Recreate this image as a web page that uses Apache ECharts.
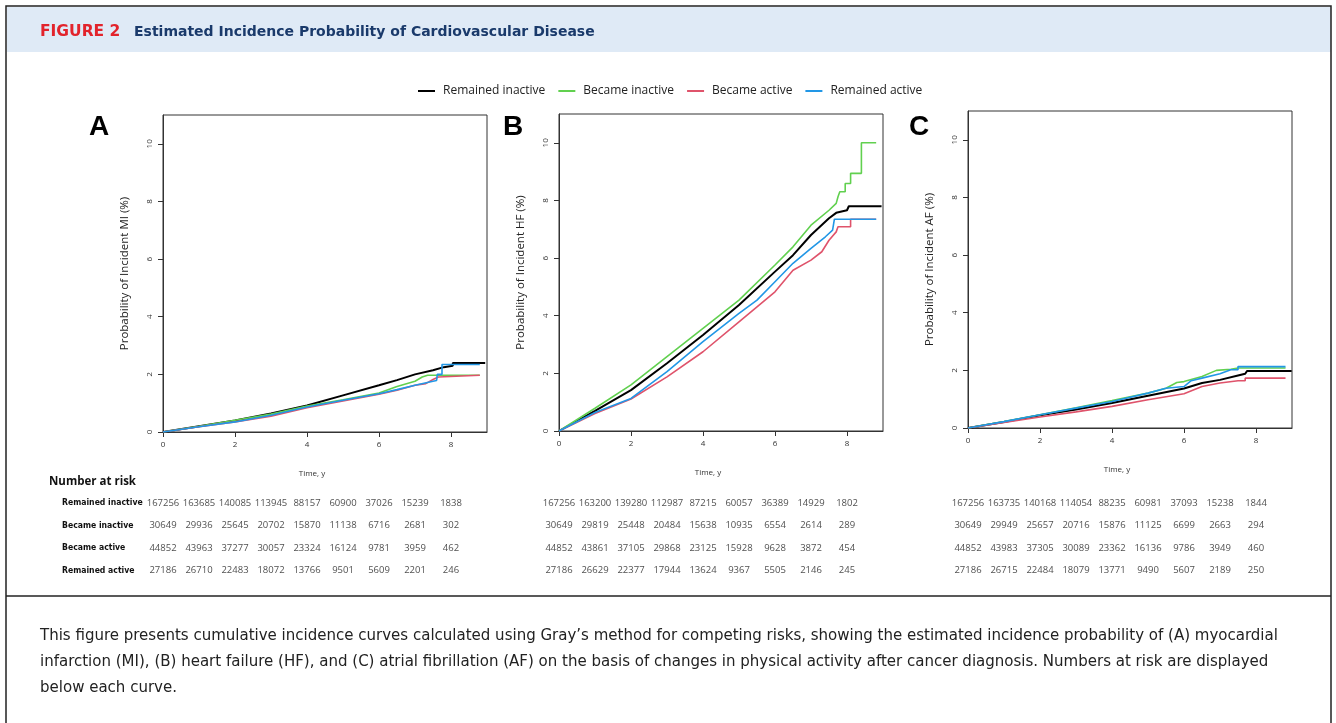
<!DOCTYPE html>
<html>
<head>
<meta charset="utf-8">
<script src="https://cdn.jsdelivr.net/npm/echarts@6.0.0/dist/echarts.min.js"></script>
<style>
  html, body { margin: 0; padding: 0; background: #fff; }
  #chart-container { width: 1336px; height: 723px; }
</style>
</head>
<body>
<div id="chart-container"></div>
<script>
// groups and colours (R 4 default palette)
const groups = ["Remained inactive", "Became inactive", "Became active", "Remained active"];
const groupColors = ["#000000", "#61D04F", "#DF536B", "#2297E6"];

// x ticks of the number-at-risk tables
const riskTimes = [0, 1, 2, 3, 4, 5, 6, 7, 8];

// (A) myocardial infarction: [time, %]
const miRemainedInactive = [[0,0],[1,0.2],[2,0.4],[3,0.64],[4,0.92],[5,1.27],[6,1.62],[6.5,1.8],[7,2.0],[7.5,2.14],[7.8,2.25],[8.05,2.3],[8.05,2.39],[8.95,2.39]];
const miBecameInactive = [[0,0],[1,0.2],[2,0.41],[3,0.62],[4,0.9],[5,1.12],[6,1.35],[6.5,1.58],[7,1.76],[7.2,1.91],[7.35,1.97],[8.8,1.97]];
const miBecameActive = [[0,0],[1,0.18],[2,0.35],[3,0.55],[4,0.84],[5,1.08],[6,1.31],[6.5,1.45],[7,1.62],[7.3,1.68],[7.5,1.82],[7.65,1.91],[7.7,1.97],[8.8,1.97]];
const miRemainedActive = [[0,0],[1,0.18],[2,0.35],[3,0.58],[4,0.87],[5,1.1],[6,1.33],[6.5,1.47],[7,1.62],[7.5,1.76],[7.6,1.79],[7.62,2.0],[7.75,2.0],[7.75,2.34],[8.8,2.34]];

// (B) heart failure
const hfRemainedInactive = [[0,0],[1,0.7],[2,1.42],[3,2.35],[4,3.33],[5,4.37],[6,5.53],[6.5,6.1],[7,6.8],[7.5,7.38],[7.7,7.57],[8.0,7.66],[8.05,7.8],[8.96,7.8]];
const hfBecameInactive = [[0,0],[1,0.79],[2,1.6],[3,2.58],[4,3.56],[5,4.54],[6,5.76],[6.5,6.39],[7,7.14],[7.5,7.66],[7.7,7.9],[7.75,8.13],[7.8,8.3],[7.95,8.3],[7.95,8.59],[8.1,8.59],[8.1,8.94],[8.4,8.94],[8.4,10.0],[8.81,10.0]];
const hfBecameActive = [[0,0],[1,0.61],[2,1.11],[3,1.88],[4,2.75],[5,3.79],[6,4.83],[6.5,5.58],[7,5.93],[7.3,6.22],[7.5,6.62],[7.7,6.91],[7.75,7.09],[8.1,7.09],[8.1,7.35],[8.81,7.35]];
const hfRemainedActive = [[0,0],[1,0.64],[2,1.13],[3,2.06],[4,3.1],[5,4.08],[5.5,4.54],[6,5.18],[6.5,5.82],[7,6.34],[7.4,6.74],[7.6,6.97],[7.65,7.35],[8.81,7.35]];

// (C) atrial fibrillation
const afRemainedInactive = [[0,0],[1,0.21],[2,0.44],[3,0.64],[4,0.87],[5,1.12],[6,1.37],[6.5,1.56],[7,1.67],[7.5,1.82],[7.7,1.88],[7.75,1.98],[8.99,1.98]];
const afBecameInactive = [[0,0],[1,0.22],[2,0.46],[3,0.7],[4,0.95],[5,1.21],[5.5,1.38],[5.8,1.58],[6,1.61],[6.5,1.79],[6.9,2.0],[7.3,2.04],[7.5,2.08],[8.82,2.08]];
const afBecameActive = [[0,0],[1,0.19],[2,0.38],[3,0.56],[4,0.75],[5,0.98],[6,1.19],[6.5,1.44],[7,1.56],[7.5,1.64],[7.7,1.64],[7.7,1.73],[8.82,1.73]];
const afRemainedActive = [[0,0],[1,0.22],[2,0.46],[3,0.69],[4,0.92],[5,1.21],[5.5,1.38],[6,1.44],[6.2,1.64],[6.5,1.73],[7,1.88],[7.3,2.02],[7.5,2.02],[7.5,2.13],[8.82,2.13]];

// numbers at risk (rows in group order)
const riskMI = [
  [167256, 163685, 140085, 113945, 88157, 60900, 37026, 15239, 1838],
  [30649, 29936, 25645, 20702, 15870, 11138, 6716, 2681, 302],
  [44852, 43963, 37277, 30057, 23324, 16124, 9781, 3959, 462],
  [27186, 26710, 22483, 18072, 13766, 9501, 5609, 2201, 246]
];
const riskHF = [
  [167256, 163200, 139280, 112987, 87215, 60057, 36389, 14929, 1802],
  [30649, 29819, 25448, 20484, 15638, 10935, 6554, 2614, 289],
  [44852, 43861, 37105, 29868, 23125, 15928, 9628, 3872, 454],
  [27186, 26629, 22377, 17944, 13624, 9367, 5505, 2146, 245]
];
const riskAF = [
  [167256, 163735, 140168, 114054, 88235, 60981, 37093, 15238, 1844],
  [30649, 29949, 25657, 20716, 15876, 11125, 6699, 2663, 294],
  [44852, 43983, 37305, 30089, 23362, 16136, 9786, 3949, 460],
  [27186, 26715, 22484, 18079, 13771, 9490, 5607, 2189, 250]
];

const yTitles = ["Probability of Incident MI (%)", "Probability of Incident HF (%)", "Probability of Incident AF (%)"];
const panelLetters = ["A", "B", "C"];

const panels = [
  { curves: [miRemainedInactive, miBecameInactive, miBecameActive, miRemainedActive], risk: riskMI, left: 163, top: 115 },
  { curves: [hfRemainedInactive, hfBecameInactive, hfBecameActive, hfRemainedActive], risk: riskHF, left: 559, top: 114 },
  { curves: [afRemainedInactive, afBecameInactive, afBecameActive, afRemainedActive], risk: riskAF, left: 968, top: 111 }
];

const FONT = "'Open Sans', 'Noto Sans', sans-serif";
const COND = "'DejaVu Sans Condensed', 'Liberation Sans Narrow', sans-serif";
const HEAD = "'DejaVu Sans', sans-serif";

const chart = echarts.init(document.getElementById("chart-container"), null, { renderer: "canvas" });

const grid = [], xAxis = [], yAxis = [], series = [];

panels.forEach((p, i) => {
  // plot grid
  grid.push({ left: p.left, top: p.top, width: 324, height: 317, show: true, borderColor: "#333", borderWidth: 1, containLabel: false });
  // table grid
  grid.push({ left: p.left, top: 491.5, width: 324, height: 90.5 });

  xAxis.push({
    gridIndex: 2 * i, type: "value", min: 0, max: 9, interval: 2,
    name: "Time, y", nameLocation: "middle", nameGap: 38,
    nameTextStyle: { fontSize: 8, color: "#333", fontFamily: FONT, padding: [0, 26, 0, 0] },
    axisLine: { show: true, onZero: false, lineStyle: { color: "#333", width: 1 } },
    axisTick: { show: true, length: 5, lineStyle: { color: "#333" } },
    axisLabel: { fontSize: 8, color: "#333", margin: 9, fontFamily: FONT, showMaxLabel: false },
    splitLine: { show: false }
  });
  yAxis.push({
    gridIndex: 2 * i, type: "value", min: 0, max: 11, interval: 2,
    name: yTitles[i], nameLocation: "middle", nameGap: 32,
    nameTextStyle: { fontSize: 11.5, color: "#222", fontFamily: FONT },
    axisLine: { show: true, lineStyle: { color: "#333", width: 1 } },
    axisTick: { show: true, length: 5, lineStyle: { color: "#333" } },
    axisLabel: { fontSize: 8, color: "#333", rotate: 90, margin: 9, fontFamily: FONT, showMaxLabel: false },
    splitLine: { show: false }
  });

  xAxis.push({ gridIndex: 2 * i + 1, type: "value", min: 0, max: 9, show: false });
  yAxis.push({
    gridIndex: 2 * i + 1, type: "category", data: groups, inverse: true,
    show: i === 0,
    axisLine: { show: false }, axisTick: { show: false },
    axisLabel: { show: i === 0, align: "left", margin: 101, fontSize: 8.6, fontWeight: "bold", color: "#111", fontFamily: COND }
  });

  p.curves.forEach((c, g) => {
    series.push({
      name: groups[g], type: "line", xAxisIndex: 2 * i, yAxisIndex: 2 * i,
      data: c, showSymbol: false, symbol: "none", smooth: false,
      lineStyle: { color: groupColors[g], width: g === 0 ? 2 : 1.6 },
      itemStyle: { color: groupColors[g] }, z: 2 + g
    });
  });

  const tableData = [];
  p.risk.forEach((row, g) => row.forEach((n, k) => tableData.push([riskTimes[k], groups[g], n])));
  series.push({
    name: "risk" + panelLetters[i], type: "scatter", xAxisIndex: 2 * i + 1, yAxisIndex: 2 * i + 1,
    data: tableData, symbolSize: 0, silent: true,
    label: { show: true, position: "inside", formatter: d => d.value[2], fontSize: 9.5, color: "#222", fontFamily: FONT }
  });
});

const graphic = [
  // header band and frame
  { type: "rect", shape: { x: 7, y: 7, width: 1324, height: 45 }, style: { fill: "#dfeaf6" }, silent: true },
  { type: "polyline", shape: { points: [[6, 723], [6, 6], [1331, 6], [1331, 723]] }, style: { stroke: "#222", lineWidth: 1.5, fill: null }, silent: true },
  { type: "line", shape: { x1: 6, y1: 596, x2: 1331, y2: 596 }, style: { stroke: "#222", lineWidth: 1.5 }, silent: true },
  { type: "text", x: 40, y: 32, style: { text: "FIGURE 2", fill: "#e2232b", font: "bold 15.5px " + HEAD, textVerticalAlign: "middle" } },
  { type: "text", x: 134, y: 32, style: { text: "Estimated Incidence Probability of Cardiovascular Disease", fill: "#1a3a6b", font: "bold 14px " + HEAD, textVerticalAlign: "middle" } },
  // panel letters
  { type: "text", x: 89, y: 127, style: { text: "A", fill: "#000", font: "bold 28px 'Liberation Sans', Arial, sans-serif", textVerticalAlign: "middle" } },
  { type: "text", x: 503, y: 127, style: { text: "B", fill: "#000", font: "bold 28px 'Liberation Sans', Arial, sans-serif", textVerticalAlign: "middle" } },
  { type: "text", x: 909, y: 127, style: { text: "C", fill: "#000", font: "bold 28px 'Liberation Sans', Arial, sans-serif", textVerticalAlign: "middle" } },
  { type: "text", x: 49, y: 482, style: { text: "Number at risk", fill: "#111", font: "bold 11.5px " + FONT, textVerticalAlign: "middle" } },
  // caption
  { type: "text", x: 40, y: 636, style: { text: "This figure presents cumulative incidence curves calculated using Gray\u2019s method for competing risks, showing the estimated incidence probability of (A) myocardial", fill: "#222", font: "16.7px " + COND, textVerticalAlign: "middle" } },
  { type: "text", x: 40, y: 662, style: { text: "infarction (MI), (B) heart failure (HF), and (C) atrial fibrillation (AF) on the basis of changes in physical activity after cancer diagnosis. Numbers at risk are displayed", fill: "#222", font: "16.7px " + COND, textVerticalAlign: "middle" } },
  { type: "text", x: 40, y: 688, style: { text: "below each curve.", fill: "#222", font: "16.7px " + COND, textVerticalAlign: "middle" } }
];

const option = {
  animation: false,
  backgroundColor: "#fff",
  legend: {
    data: groups, top: 80, left: 413, icon: "rect", itemWidth: 17, itemHeight: 2, itemGap: 13,
    textStyle: { fontSize: 12, color: "#222", fontFamily: FONT, padding: [0, 0, 0, 3] }
  },
  grid, xAxis, yAxis, series, graphic
};

chart.setOption(option);
</script>
</body>
</html>
